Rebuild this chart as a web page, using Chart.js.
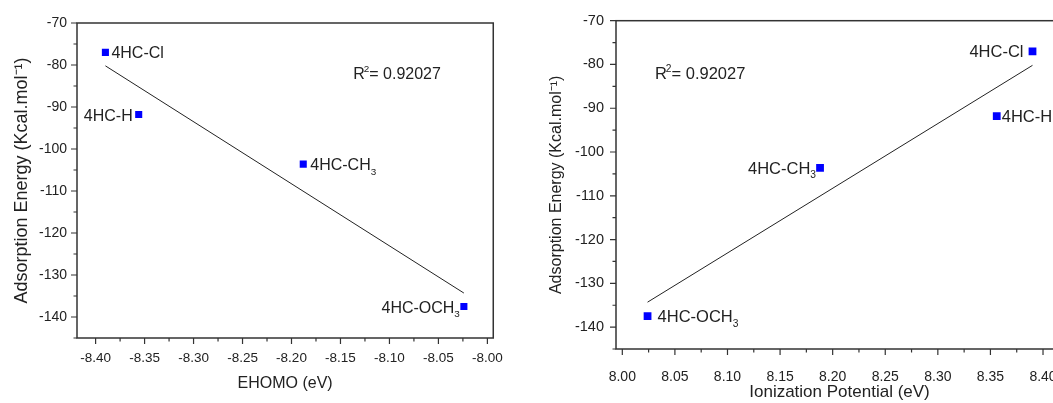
<html>
<head>
<script src="https://cdn.jsdelivr.net/npm/chart.js"></script>
<style>
html, body { margin: 0; padding: 0; overflow: hidden; background: #fff; }
body { width: 1053px; height: 403px; position: relative; }
#left { position: absolute; left: 0; top: 0; }
#right { position: absolute; left: 530px; top: 0; }
</style>
</head>
<body>
<canvas id="left" width="515" height="403"></canvas>
<canvas id="right" width="549" height="403"></canvas>

<script>
// values
const compounds  = ['4HC-Cl', '4HC-H', '4HC-CH3', '4HC-OCH3'];
const ehomo      = [-8.390, -8.356, -8.188, -8.024];
const ionization = [8.390, 8.356, 8.188, 8.024];
const adsorption = [-77.0, -91.8, -103.6, -137.5];

// linear fit end points (as drawn)
const fitEhomo = [-8.390, -8.024];
const fitIon   = [8.390, 8.024];
const fitY     = [-80.2, -134.3];

const r2Value = '0.92027';

const yTicks  = [-140, -130, -120, -110, -100, -90, -80, -70];
const yMinor  = [-145, -135, -125, -115, -105, -95, -85, -75];
const ehomoTicks = [-8.40, -8.35, -8.30, -8.25, -8.20, -8.15, -8.10, -8.05, -8.00];
const ehomoMinor = [-8.375, -8.325, -8.275, -8.225, -8.175, -8.125, -8.075, -8.025];
const ionTicks = [8.00, 8.05, 8.10, 8.15, 8.20, 8.25, 8.30, 8.35, 8.40];
const ionMinor = [8.025, 8.075, 8.125, 8.175, 8.225, 8.275, 8.325, 8.375];

const FONT = '"Liberation Sans", Arial, sans-serif';

// draws "4HC-CH" + subscript "3" etc.
function drawName(ctx, name, x, y, side, size) {
  let main = name, sub = '';
  if (/H3$/.test(name)) { main = name.slice(0, -1); sub = '3'; }
  ctx.font = size + 'px ' + FONT;
  const wMain = ctx.measureText(main).width;
  ctx.font = (size * 0.62) + 'px ' + FONT;
  const wSub = sub ? ctx.measureText(sub).width : 0;
  let x0 = side === 'right' ? x : x - wMain - wSub;
  ctx.textAlign = 'left';
  ctx.textBaseline = 'alphabetic';
  ctx.font = size + 'px ' + FONT;
  ctx.fillText(main, x0, y);
  if (sub) {
    ctx.font = (size * 0.62) + 'px ' + FONT;
    ctx.fillText(sub, x0 + wMain, y + size * 0.28);
  }
}

const decor = {
  id: 'decor',
  afterDatasetsDraw(chart, args, o) {
    const ctx = chart.ctx, a = chart.chartArea;
    const xs = chart.scales.x, ys = chart.scales.y;
    ctx.save();
    // frame
    ctx.strokeStyle = '#333';
    ctx.lineWidth = 1.5;
    ctx.strokeRect(a.left, a.top, a.right - a.left, a.bottom - a.top);
    // outward ticks
    ctx.lineWidth = 1.2;
    ctx.beginPath();
    o.xMajor.forEach(v => { const p = xs.getPixelForValue(v); ctx.moveTo(p, a.bottom); ctx.lineTo(p, a.bottom + 6); });
    o.xMinor.forEach(v => { const p = xs.getPixelForValue(v); ctx.moveTo(p, a.bottom); ctx.lineTo(p, a.bottom + 3.5); });
    o.yMajor.forEach(v => { const p = ys.getPixelForValue(v); ctx.moveTo(a.left, p); ctx.lineTo(a.left - 6, p); });
    o.yMinor.forEach(v => { const p = ys.getPixelForValue(v); ctx.moveTo(a.left, p); ctx.lineTo(a.left - 3.5, p); });
    ctx.stroke();

    // point names
    ctx.fillStyle = '#222';
    o.names.forEach((n, i) => {
      const px = xs.getPixelForValue(o.xs[i]);
      const py = ys.getPixelForValue(o.ys[i]);
      const g = o.gaps[i];
      const side = o.sides[i];
      drawName(ctx, n, side === 'right' ? px + g : px - g, py + 6, side, o.fontSize);
    });

    // R^2 note
    let rx = xs.getPixelForValue(o.r2At[0]);
    const ry = ys.getPixelForValue(o.r2At[1]) + 6;
    ctx.textAlign = 'left';
    ctx.font = o.fontSize + 'px ' + FONT;
    ctx.fillText('R', rx, ry);
    rx += ctx.measureText('R').width;
    ctx.font = (o.fontSize * 0.62) + 'px ' + FONT;
    ctx.fillText('2', rx - 1, ry - o.fontSize * 0.42);
    rx += ctx.measureText('2').width - 1;
    ctx.font = o.fontSize + 'px ' + FONT;
    ctx.fillText('= ' + r2Value, rx, ry);
    ctx.restore();
  }
};

function makeChart(id, cfg) {
  const pts = cfg.xs.map((x, i) => ({x: x, y: adsorption[i]}));
  const fit = cfg.fitX.map((x, i) => ({x: x, y: fitY[i]}));
  return new Chart(document.getElementById(id), {
    type: 'scatter',
    data: {
      datasets: [
        {
          data: fit, showLine: true, borderColor: '#222', borderWidth: 1,
          pointRadius: 0, fill: false, order: 2
        },
        {
          data: pts, pointStyle: 'rect', pointRadius: cfg.radius,
          backgroundColor: '#0000ff', borderColor: '#0000ff', borderWidth: 0, order: 1
        }
      ]
    },
    options: {
      responsive: false,
      animation: false,
      layout: { padding: { left: 0, top: cfg.top, right: 16, bottom: 0 } },
      plugins: {
        legend: { display: false },
        tooltip: { enabled: false },
        decor: {
          xMajor: cfg.xTicks, xMinor: cfg.xMinor, yMajor: yTicks, yMinor: yMinor,
          names: compounds, xs: cfg.xs, ys: adsorption, sides: cfg.sides, gaps: cfg.gaps,
          fontSize: cfg.noteSize, r2At: cfg.r2At
        }
      },
      scales: {
        x: {
          type: 'linear', min: cfg.xMin, max: cfg.xMax,
          grid: { display: false, drawTicks: false },
          border: { display: false },
          afterBuildTicks: s => { s.ticks = cfg.xTicks.map(v => ({value: v})); },
          afterFit: s => { s.height = cfg.xHeight; },
          ticks: {
            color: '#222', padding: cfg.xPad, maxRotation: 0, autoSkip: false,
            font: { family: FONT, size: cfg.tickSize },
            callback: v => v.toFixed(2)
          },
          title: {
            display: true, text: cfg.xTitle, color: '#222',
            font: { family: FONT, size: cfg.xTitleSize }, padding: cfg.xTitlePad
          }
        },
        y: {
          type: 'linear', min: -145, max: -70,
          grid: { display: false, drawTicks: false },
          border: { display: false },
          afterBuildTicks: s => { s.ticks = yTicks.map(v => ({value: v})); },
          afterFit: s => { s.width = cfg.yWidth; },
          ticks: {
            color: '#222', padding: cfg.yPad, autoSkip: false,
            font: { family: FONT, size: cfg.tickSize + 0.5 },
            callback: v => String(v)
          },
          title: {
            display: true, text: 'Adsorption Energy (Kcal.mol\u207B\u00B9)', color: '#222',
            font: { family: FONT, size: cfg.yTitleSize }, padding: cfg.yTitlePad
          }
        }
      }
    },
    plugins: [decor]
  });
}

makeChart('left', {
  xs: ehomo, fitX: fitEhomo, xMin: -8.419, xMax: -7.994,
  xTicks: ehomoTicks, xMinor: ehomoMinor,
  xTitle: 'EHOMO (eV)', xTitleSize: 16, xTitlePad: 10,
  yTitleSize: 18, yTitlePad: 11,
  top: 23, xHeight: 65, yWidth: 77, xPad: 12, yPad: 10,
  tickSize: 13.5, noteSize: 16, radius: 5,
  sides: ['right', 'left', 'right', 'left'], gaps: [6, 6, 7, 4],
  r2At: [-8.137, -81.9]
});

makeChart('right', {
  xs: ionization, fitX: fitIon, xMin: 7.994, xMax: 8.419,
  xTicks: ionTicks, xMinor: ionMinor,
  xTitle: 'Ionization Potential (eV)', xTitleSize: 17, xTitlePad: 0,
  yTitleSize: 16, yTitlePad: 17,
  top: 19, xHeight: 54, yWidth: 86, xPad: 20, yPad: 12,
  tickSize: 14, noteSize: 16.5, radius: 5.5,
  sides: ['left', 'right', 'left', 'right'], gaps: [9, 5, 4, 10],
  r2At: [8.031, -81.95]
});
</script>
</body>
</html>
